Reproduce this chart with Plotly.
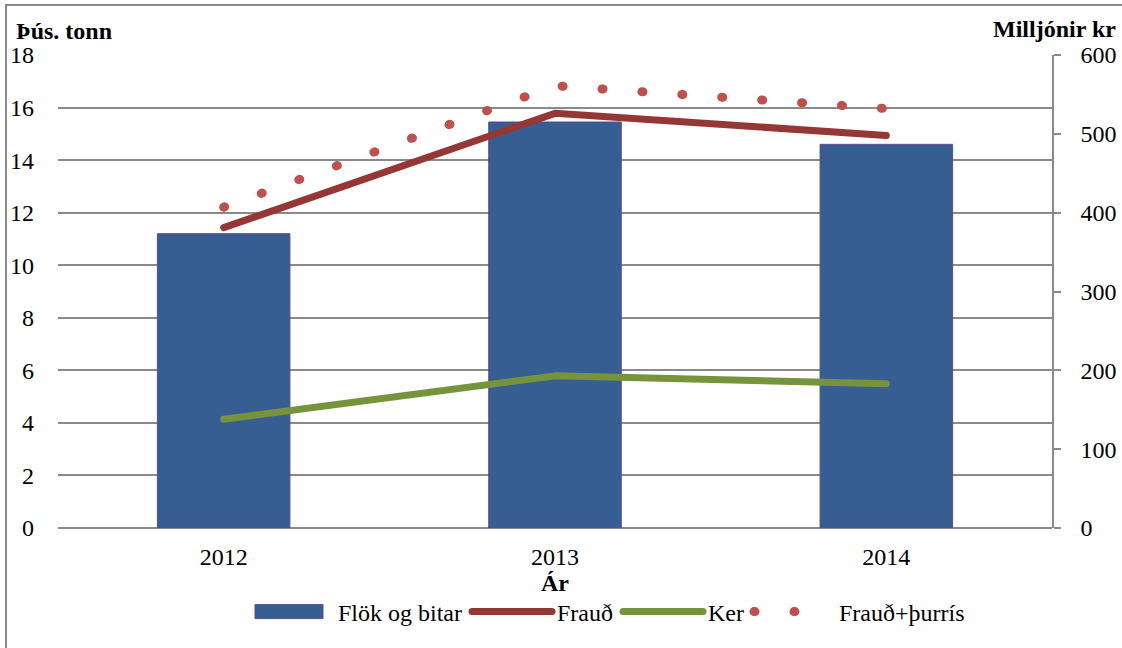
import plotly.graph_objects as go

years = ["2012", "2013", "2014"]
flok_og_bitar = [11.2, 15.45, 14.6]          # Þús. tonn (left axis)
fraud = [381, 526, 498]                       # Milljónir kr (right axis)
ker = [138, 193, 183]
fraud_thurris = [407, 561, 532]

FONT = "Liberation Serif"
GRID = "#8a8a8a"

def f(size=24):
    return dict(family=FONT, size=size, color="black")

fig = go.Figure()
fig.add_trace(go.Bar(
    x=years, y=flok_og_bitar, name="Flök og bitar", width=0.4,
    marker=dict(color="#375E92", line=dict(color="#5B4C8C", width=1)),
    yaxis="y"))
fig.add_trace(go.Scatter(
    x=years, y=fraud, name="Frauð", mode="lines",
    line=dict(color="#953735", width=7), yaxis="y2"))
fig.add_trace(go.Scatter(
    x=years, y=ker, name="Ker", mode="lines",
    line=dict(color="#77933C", width=7), yaxis="y2"))
fig.add_trace(go.Scatter(
    x=years, y=fraud_thurris, name="Frauð+þurrís", mode="lines",
    line=dict(color="#C0504D", width=9, dash="1px,39px"), yaxis="y2"))

L, R, T, B = 58, 70, 55, 120
W, H = 1122, 648
pw, ph = W - L - R, H - T - B

def px(x):
    return (x - L) / pw

def py(y):
    return (H - B - y) / ph

fig.update_layout(
    width=W, height=H,
    margin=dict(l=L, r=R, t=T, b=B, autoexpand=False),
    paper_bgcolor="white", plot_bgcolor="white",
    font=f(),
    showlegend=True,
    legend=dict(orientation="h", x=px(609), xanchor="center", y=py(612), yanchor="middle",
                font=f(), traceorder="normal", itemwidth=80,
                bgcolor="rgba(0,0,0,0)"),
    xaxis=dict(type="category", range=[-0.5, 2.5], showgrid=False, showline=False,
               ticks="", ticklabelstandoff=12, tickfont=f(), automargin=False,
               title=dict(text="<b>Ár</b>", font=f(), standoff=0)),
    yaxis=dict(range=[0, 18], dtick=2, showgrid=True, gridcolor=GRID, gridwidth=1.5,
               showline=False, ticks="", ticklabelstandoff=23, zeroline=True,
               zerolinecolor=GRID, zerolinewidth=1.5, tickfont=f(), automargin=False),
    yaxis2=dict(range=[0, 600], dtick=100, overlaying="y", side="right",
                showgrid=False, showline=True, linecolor=GRID, linewidth=1.5,
                ticks="outside", ticklen=7, tickcolor=GRID, tickwidth=1.5,
                ticklabelstandoff=15, zeroline=False, tickfont=f(), automargin=False),
    annotations=[
        dict(text="<b>Þús. tonn</b>", xref="paper", yref="paper",
             x=px(14), y=py(31), xanchor="left", yanchor="middle",
             showarrow=False, font=f(24)),
        dict(text="<b>Milljónir kr</b>", xref="paper", yref="paper",
             x=px(1118), y=py(29), xanchor="right", yanchor="middle",
             showarrow=False, font=f(24)),
    ],
    shapes=[
        dict(type="rect", xref="paper", yref="paper",
             x0=px(6), x1=px(1140), y0=py(670), y1=py(5),
             line=dict(color="#8a8a8a", width=2), layer="below"),
    ],
)

post = """
document.body.style.margin='0';
document.body.style.padding='0';
function tweak(){
  document.querySelectorAll('path.js-line, .legendlines path').forEach(function(p){
    p.style.strokeLinecap='round'; p.style.strokeLinejoin='round';
  });
  var first = document.querySelector('.legend .traces .legendpoints path');
  if(first){ first.setAttribute('d','M-38,-7H30V7H-38Z'); }
}
tweak();
var gd=document.getElementsByClassName('plotly-graph-div')[0];
if(gd && gd.on){gd.on('plotly_afterplot', tweak);}
"""

fig.write_html("out.html", post_script=post, config={"displayModeBar": False})
